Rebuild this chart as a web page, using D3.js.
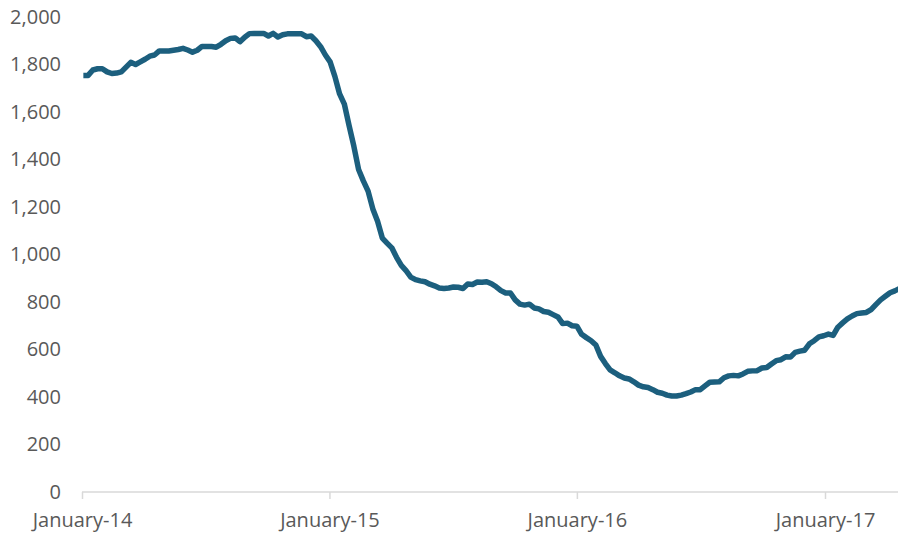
<!DOCTYPE html>
<html>
<head>
<meta charset="utf-8">
<script src="https://cdn.jsdelivr.net/npm/d3@7"></script>
<style>
  html, body { margin: 0; padding: 0; background: #fff; }
  svg { display: block; }
  .lbl { font-family: "Open Sans", sans-serif; font-size: 20px; fill: #595959; }
</style>
</head>
<body>
<svg id="chart" width="898" height="536"></svg>
<script>
// ---- data (weekly rig count) ----
const seriesStarts = ["2014-01-03", "2015-01-02", "2016-01-08", "2017-01-06"];
const rigs2014 = [1754, 1754, 1777, 1782, 1782, 1769, 1762, 1764, 1769, 1789, 1809, 1800, 1811,
  1822, 1835, 1840, 1857, 1857, 1857, 1860, 1863, 1868, 1861, 1852, 1860, 1876, 1876,
  1876, 1873, 1885, 1900, 1910, 1912, 1896, 1915, 1930, 1931, 1931, 1931, 1920, 1931,
  1916, 1925, 1929, 1929, 1929, 1929, 1917, 1920, 1900, 1875, 1840];
const rigs2015 = [1811, 1750, 1676, 1633, 1543, 1456, 1358, 1310, 1267, 1192, 1140, 1069, 1048,
  1028, 988, 954, 932, 905, 894, 889, 885, 875, 868, 859, 857, 859, 863, 862, 857, 876,
  874, 884, 883, 885, 877, 864, 848, 838, 838, 809, 791, 787, 791, 775, 771, 760, 757,
  747, 737, 709, 711, 700, 698];
const rigs2016 = [664, 650, 637, 619, 571, 541, 514, 502, 489, 480, 476, 464, 450, 443, 440, 431,
  420, 416, 408, 404, 404, 408, 414, 421, 431, 431, 447, 462, 463, 464, 481, 489, 491,
  489, 497, 508, 510, 511, 522, 524, 539, 553, 557, 569, 568, 588, 593, 597, 624, 637,
  653, 658];
const rigs2017 = [665, 659, 694, 712, 729, 741, 751, 754, 756, 768, 789, 809, 824, 839, 847, 857];
const yTicks = [0, 200, 400, 600, 800, 1000, 1200, 1400, 1600, 1800, 2000];
const xTicks = ["2014-01-01", "2015-01-01", "2016-01-01", "2017-01-01"];

// ---- build table ----
const parse = d3.utcParse("%Y-%m-%d");
const data = [];
[rigs2014, rigs2015, rigs2016, rigs2017].forEach((vals, i) => {
  const s = parse(seriesStarts[i]);
  vals.forEach((v, j) => data.push({ date: d3.utcDay.offset(s, 7 * j), value: v }));
});

const W = 898, H = 536;
const svg = d3.select("#chart");

const x = d3.scaleUtc()
  .domain([parse(xTicks[0]), parse(xTicks[3])])
  .range([82, 825]);
const y = d3.scaleLinear().domain([0, 2000]).range([492, 17]);

// x axis
const xAxis = d3.axisBottom(x)
  .tickValues(xTicks.map(parse))
  .tickFormat(d3.utcFormat("%B-%y"))
  .tickSize(7)
  .tickSizeOuter(0)
  .tickPadding(14);
const gx = svg.append("g").attr("transform", `translate(0,${y(0)})`).call(xAxis);
gx.select(".domain").remove();
gx.append("line")
  .attr("x1", x.range()[0]).attr("x2", W)
  .attr("y1", 0).attr("y2", 0)
  .attr("stroke", "#d9d9d9").attr("stroke-width", 1.5);
gx.selectAll(".tick line").attr("stroke", "#d9d9d9").attr("stroke-width", 1.5);
gx.selectAll(".tick text").attr("class", "lbl").attr("font-size", null).attr("font-family", null)
  .attr("fill", null);

// y axis (labels only)
const yAxis = d3.axisLeft(y)
  .tickValues(yTicks)
  .tickFormat(d3.format(","))
  .tickSize(0)
  .tickPadding(0);
const gy = svg.append("g").attr("transform", "translate(61,0)").call(yAxis);
gy.select(".domain").remove();
gy.selectAll(".tick text").attr("class", "lbl").attr("font-size", null).attr("font-family", null)
  .attr("fill", null);

// line
const line = d3.line()
  .x(d => x(d.date))
  .y(d => y(d.value));
svg.append("path")
  .datum(data)
  .attr("d", line)
  .attr("fill", "none")
  .attr("stroke", "#1c5f7e")
  .attr("stroke-width", 5.5)
  .attr("stroke-linejoin", "round")
  .attr("stroke-linecap", "butt");
</script>
</body>
</html>
